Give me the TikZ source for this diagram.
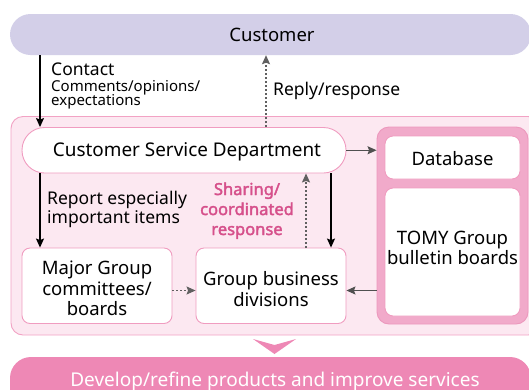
\documentclass[tikz,border=0pt]{standalone}
\usepackage{fontspec}
\setmainfont{Noto Sans}
\newfontfamily\sharefont{Noto Sans}[FakeBold=2.2]
\usetikzlibrary{arrows.meta}
\definecolor{lav}{HTML}{D3CFE8}
\definecolor{contfill}{HTML}{FCE8F1}
\definecolor{contline}{HTML}{F2A2C4}
\definecolor{panelfill}{HTML}{F1AACA}
\definecolor{panelline}{HTML}{EC98BD}
\definecolor{boxline}{HTML}{F09CC0}
\definecolor{sharepink}{HTML}{D6508B}
\definecolor{bottompink}{HTML}{EE88B5}
\definecolor{dotgray}{HTML}{606060}
\definecolor{arrgray}{HTML}{505050}
\tikzset{
  mainfont/.style={font=\fontsize{18.5}{20.5}\selectfont},
  lblfont/.style={font=\fontsize{17.5}{19}\selectfont},
  whitebox/.style={draw=boxline, line width=0.9pt, fill=white, rounded corners=8pt, inner sep=0pt},
  boxtext/.style={align=center, mainfont, inner sep=0pt},
  arr/.style={line width=1.1pt, -{Stealth[length=9pt,width=8pt,inset=1.5pt]}},
  dotarr/.style={line width=1.1pt, dotgray, dash pattern=on 2pt off 2pt, -{Stealth[length=9pt,width=8pt,inset=1.5pt]}},
  lbl/.style={anchor=base west, inner sep=0pt, lblfont},
  sharelbl/.style={anchor=base, inner sep=0pt, font=\sharefont\fontsize{16.5}{20}\selectfont, text=sharepink},
}
\begin{document}
\begin{tikzpicture}[x=1pt,y=-1pt]
\useasboundingbox (0,0) rectangle (529,389);
\clip (0,0) rectangle (529,389);
% backgrounds
\fill[lav, rounded corners=20.5pt] (10,14) rectangle (531,55);
\draw[contline, fill=contfill, line width=0.9pt, rounded corners=12pt] (11,116.5) rectangle (540,335);
\fill[bottompink, rounded corners=21pt] (10,357) rectangle (531,410);
\fill[bottompink] (253,339) -- (274.5,345) -- (296,339) -- (274.5,354) -- cycle;
% nodes
\node[mainfont, minimum width=500pt, minimum height=41pt, inner sep=0pt] (cust) at (272,34.5) {Customer};
\node[whitebox, rounded corners=22.5pt, minimum width=324pt, minimum height=45.5pt] (csd) at (184,150.25) {};
\node[boxtext, font=\fontsize{18.9}{20.5}\selectfont] (csdtext) at ([xshift=3pt,yshift=-2pt]csd.center) {Customer Service Department};
\node[draw=panelline, fill=panelfill, line width=0.9pt, rounded corners=12pt, minimum width=151pt, minimum height=197pt, inner sep=0pt] (panel) at (452.5,225.5) {};
\node[whitebox, minimum width=135pt, minimum height=43pt] (db) at (452.5,157.5) {};
\node[boxtext] (dbtext) at ([yshift=-1pt]db.center) {Database};
\node[whitebox, minimum width=135pt, minimum height=128pt] (tomy) at (452.5,252) {};
\node[boxtext] (tomytext) at ([yshift=4pt]tomy.center) {TOMY Group\\bulletin boards};
\node[whitebox, minimum width=150pt, minimum height=75.5pt] (major) at (97,285.75) {};
\node[boxtext] (majortext) at ([yshift=-3pt]major.center) {Major Group\\committees/\\boards};
\node[whitebox, minimum width=150pt, minimum height=75.5pt] (gb) at (271,285.75) {};
\node[boxtext] (gbtext) at ([yshift=-3.5pt]gb.center) {Group business\\divisions};
\node[font=\fontsize{19}{22}\selectfont, text=white, anchor=base, inner sep=0pt] (dev) at (275,386.5) {Develop/refine products and improve services};
% labels
\node[lbl] (contact) at (51,75) {Contact};
\node[anchor=base west, inner sep=0pt, font=\fontsize{15}{14}\selectfont] (comments) at (51,91) {Comments/opinions/};
\node[anchor=base west, inner sep=0pt, font=\fontsize{15}{14}\selectfont] (expect) at (51,105) {expectations};
\node[lbl] (reply) at (273,95.5) {Reply/response};
\node[lbl] (report1) at (47,204.5) {Report especially};
\node[lbl] (report2) at (47,223) {important items};
\node[sharelbl] (share1) at (247,195) {Sharing/};
\node[sharelbl] (share2) at (247,215) {coordinated};
\node[sharelbl] (share3) at (247,235) {response};
% helper coordinates
\coordinate (x40) at (40,0);
\coordinate (x266) at (266,0);
\coordinate (x306) at (306,0);
\coordinate (x331) at (331,0);
\coordinate (y290) at (0,290.5);
% connectors
\draw[arr] (cust.south -| x40) -- (csd.north -| x40);
\draw[dotarr] (csd.north -| x266) -- (cust.south -| x266);
\draw[arr, arrgray] (csd.east) -- (csd.east -| panel.west);
\draw[arr] (csd.south -| x40) -- (major.north -| x40);
\draw[dotarr] (gb.north -| x306) -- (csd.south -| x306);
\draw[arr] (csd.south -| x331) -- (gb.north -| x331);
\draw[dotarr] (major.east |- y290) -- (gb.west |- y290);
\draw[arr, arrgray] (panel.west |- y290) -- (gb.east |- y290);
\end{tikzpicture}
\end{document}
